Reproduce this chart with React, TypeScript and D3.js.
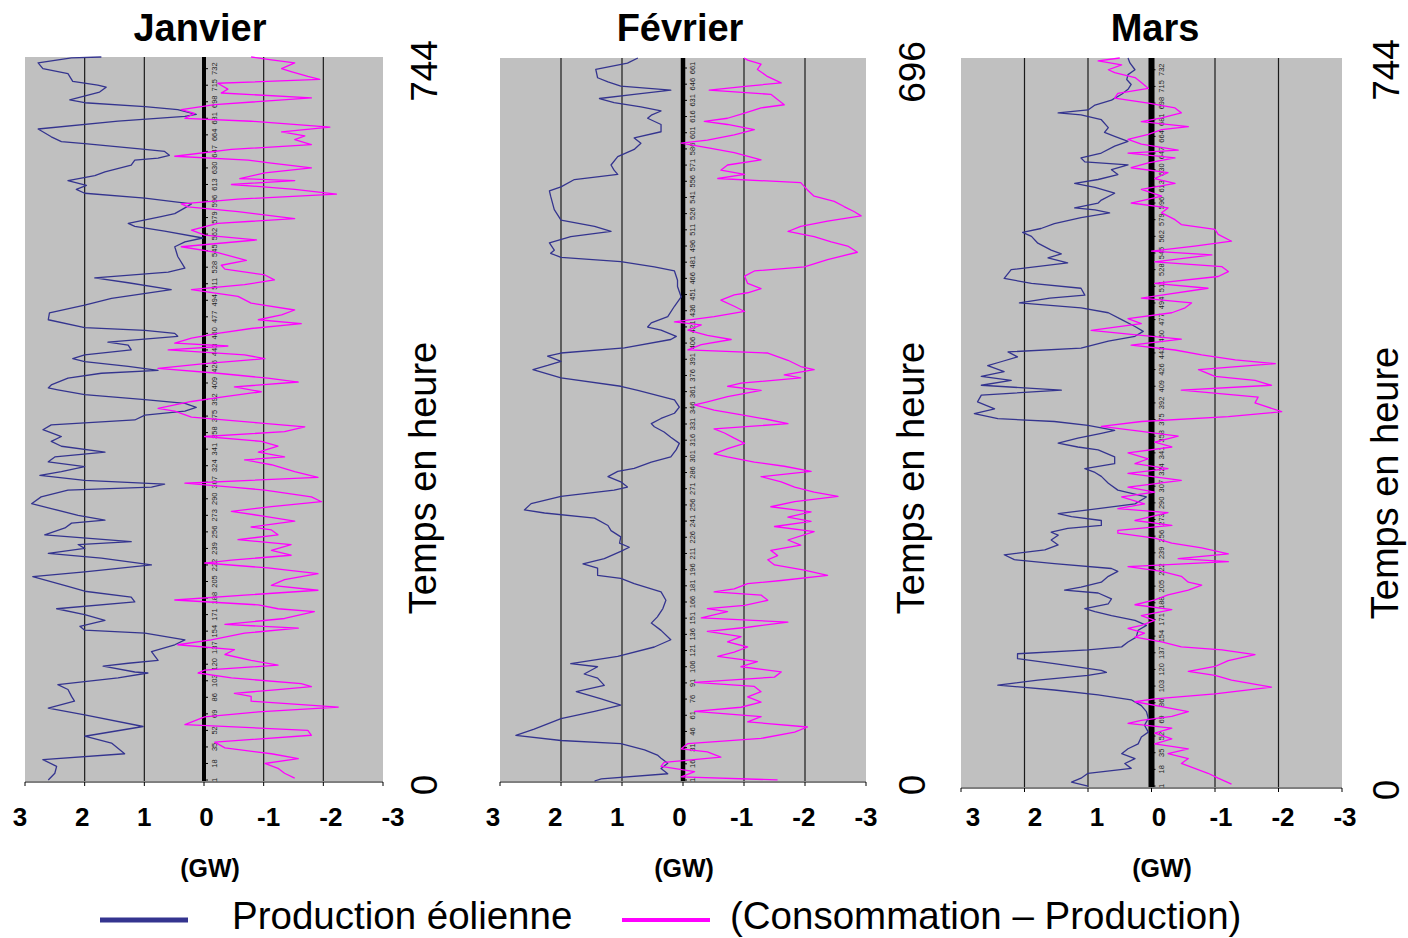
import React from 'react';
import * as d3 from 'd3';

type Pt = [number, number]; // [hour, GW]

// ---------------- DATA ----------------
const janvierProduction: Pt[] = [
  [744,1.72],[743,2.22],[738,2.78],[732,2.70],[727,2.28],[719,2.20],[715,1.78],[713,1.64],[708,1.75],[700,2.25],[697,2.00],[693,0.99],[690,0.44],[685,0.13],[683,0.32],[678,1.44],[670,2.78],[662,2.56],[657,2.39],[655,2.00],[649,0.99],[647,0.66],[643,0.58],[640,0.77],[638,1.16],[633,1.22],[626,1.66],[622,1.83],[617,2.28],[612,1.97],[608,2.14],[604,2.00],[599,0.99],[593,0.21],[589,0.32],[583,0.49],[580,0.72],[573,1.27],[570,1.16],[565,0.66],[558,0.02],[554,0.32],[549,0.49],[539,0.44],[527,0.32],[523,0.60],[517,1.83],[512,1.27],[505,0.55],[496,1.55],
  [489,2.00],[481,2.59],[474,2.61],[466,2.00],[463,0.99],[460,0.49],[457,0.44],[451,1.61],[448,1.27],[443,1.22],[438,2.00],[434,2.20],[431,2.00],[426,1.27],[422,0.77],[419,1.72],[414,2.28],[407,2.56],[404,2.61],[402,2.45],[397,2.00],[392,0.99],[388,0.32],[384,0.13],[380,0.32],[376,0.99],[371,1.16],[366,2.56],[361,2.70],[354,2.39],[349,2.56],[344,2.39],[338,1.66],[333,2.50],[328,2.61],[323,2.00],[318,2.39],[314,2.75],[309,2.00],[305,0.66],[302,0.88],[299,2.28],[292,2.73],[285,2.89],[280,2.56],[273,2.11],[268,1.66],[265,2.22],[260,2.33],[253,2.67],
  [246,1.22],[243,2.11],[239,2.00],[234,2.61],[229,1.72],[222,0.88],[215,2.00],[210,2.87],[200,2.28],[195,2.00],[189,1.22],[184,1.16],[177,2.47],[171,2.00],[165,1.66],[159,2.08],[155,2.00],[152,0.99],[145,0.32],[140,0.49],[133,0.88],[124,0.77],[121,1.27],[118,1.69],[112,1.16],[111,0.94],[106,1.44],[99,2.45],[94,2.28],[87,2.22],[82,2.17],[75,2.61],[68,2.00],[56,1.02],[46,2.00],[39,1.55],[28,1.33],[22,2.70],[15,2.47],[8,2.50],[1,2.61]
];
const janvierEcart: Pt[] = [
  [744,-0.79],[741,-1.13],[738,-1.52],[732,-1.30],[729,-1.46],[724,-1.74],[721,-1.94],[717,-0.23],[711,-0.40],[707,-0.29],[702,-1.80],[695,-0.18],[690,0.38],[686,0.16],[681,0.32],[678,-0.79],[672,-2.11],[667,-1.30],[663,-1.69],[659,-1.52],[654,-1.80],[649,-0.46],[642,0.49],[638,-0.74],[635,-1.13],[630,-1.80],[625,-1.02],[619,-0.60],[617,-1.52],[613,-0.46],[608,-1.52],[603,-2.22],[598,-0.57],[593,0.38],[590,0.27],[585,-0.57],[578,-1.52],[573,-0.23],[566,0.21],[561,-0.01],[556,-0.88],[549,0.38],[543,-0.23],[535,-0.71],[530,-0.29],[526,-0.35],[520,-1.02],[515,-1.18],[510,-0.68],[505,0.21],[498,-0.57],
  [491,-0.79],[484,-1.52],[479,-1.30],[474,-0.91],[470,-1.63],[465,-0.79],[460,-0.23],[455,0.21],[450,0.49],[447,-0.40],[443,0.60],[438,-0.68],[434,-1.02],[429,-0.01],[424,0.77],[419,-0.23],[414,-1.07],[410,-1.58],[405,-0.51],[400,-0.96],[395,-0.35],[390,0.21],[383,0.77],[380,0.49],[374,0.21],[368,-0.91],[364,-1.69],[359,-1.35],[354,-0.01],[349,-0.96],[344,-1.24],[338,-0.91],[333,-1.35],[330,-0.68],[325,-1.13],[318,-1.52],[312,-1.91],[306,0.32],[302,-0.46],[299,-1.02],[292,-1.80],[287,-1.97],[282,-1.13],[277,-0.46],[272,-1.02],[267,-1.52],[261,-0.79],[258,-1.13],
  [253,-1.24],[248,-0.57],[243,-1.46],[237,-1.13],[232,-1.46],[227,-0.46],[224,-0.01],[219,-1.07],[213,-1.91],[207,-1.35],[201,-1.13],[196,-1.91],[191,-0.68],[186,0.49],[181,-0.91],[177,-1.24],[174,-1.85],[167,-1.35],[161,-0.35],[157,-1.58],[152,-0.68],[145,-0.12],[140,0.44],[135,-0.51],[130,-0.35],[124,-0.79],[119,-1.24],[114,-0.01],[111,0.10],[106,-0.46],[100,-1.63],[97,-1.80],[94,-1.24],[90,-0.51],[87,-0.79],[82,-0.79],[76,-2.25],[71,-0.91],[66,-0.01],[58,0.32],[52,-1.74],[47,-1.80],[40,-0.18],[34,-0.35],[28,-1.13],[23,-1.58],[18,-1.02],[13,-1.24],[8,-1.35],[3,-1.52]
];

const fevrierProduction: Pt[] = [
  [696,0.74],[691,0.91],[685,1.43],[677,1.40],[673,1.23],[669,1.02],[665,0.20],[661,0.80],[657,1.37],[653,1.13],[649,0.69],[645,0.36],[641,0.52],[638,0.58],[632,0.36],[625,0.36],[619,0.80],[614,0.69],[608,0.80],[601,1.07],[593,1.18],[588,1.13],[584,1.07],[579,1.78],[572,2.00],[568,2.19],[563,2.17],[550,2.11],[540,2.00],[534,1.45],[529,1.18],[524,1.84],[518,2.19],[511,2.11],[508,2.17],[504,2.00],[500,1.02],[495,0.47],[491,0.14],[482,0.09],[476,0.09],
  [466,0.03],[457,0.14],[447,0.25],[441,0.52],[437,0.58],[434,0.36],[428,0.11],[425,0.20],[417,0.96],[412,2.00],[409,2.22],[404,2.00],[400,2.22],[396,2.46],[388,2.00],[380,1.02],[376,0.74],[367,0.14],[360,0.06],[354,0.14],[349,0.36],[344,0.52],[341,0.47],[336,0.31],[331,0.20],[325,0.06],[319,0.11],[312,0.20],[307,0.52],[301,0.80],[298,1.07],[293,1.23],[288,1.02],[283,0.91],[280,1.13],[274,2.00],[267,2.49],[261,2.60],[258,2.27],[253,1.45],[246,1.23],[241,1.18],
  [235,1.02],[229,1.04],[225,0.88],[221,1.02],[214,1.29],[209,1.64],[205,1.40],[198,1.40],[195,1.02],[190,0.80],[182,0.36],[174,0.28],[166,0.33],[158,0.42],[152,0.52],[145,0.36],[136,0.20],[129,0.47],[120,1.07],[113,1.84],[110,1.40],[103,1.62],[99,1.40],[92,1.29],[86,1.75],[79,1.34],[73,1.02],[67,1.45],[60,2.00],[50,2.44],[44,2.74],[39,2.00],[36,1.02],[30,0.63],[25,0.42],[22,0.36],[17,0.25],[12,0.36],[7,0.25],[2,1.34],[0,1.45]
];
const fevrierEcart: Pt[] = [
  [696,-1.00],[694,-1.06],[690,-1.28],[685,-1.22],[678,-1.39],[672,-1.61],[669,-1.06],[665,-0.43],[661,-1.44],[656,-1.55],[651,-1.66],[648,-1.28],[643,-1.01],[638,-0.73],[635,-0.35],[632,-0.73],[627,-1.17],[622,-0.84],[617,-0.40],[614,0.03],[609,-0.46],[605,-0.84],[598,-1.28],[593,-0.73],[588,-0.62],[584,-1.01],[580,-0.57],[576,-1.93],[569,-2.04],[563,-2.15],[558,-2.48],[553,-2.64],[548,-2.81],[544,-2.92],[539,-2.37],[534,-1.93],[529,-1.72],[524,-2.15],[519,-2.43],[515,-2.70],[509,-2.86],[502,-2.37],[495,-1.99],[491,-1.17],[486,-1.01],[479,-1.06],[474,-1.28],[470,-1.06],
  [468,-0.84],[463,-0.62],[457,-0.84],[452,-1.01],[447,-0.51],[442,0.14],[439,-0.30],[434,-0.08],[429,-0.40],[425,-0.79],[420,-0.30],[415,-0.08],[412,-1.39],[405,-1.72],[399,-1.93],[396,-2.15],[391,-1.66],[388,-1.93],[383,-0.95],[380,-0.73],[376,-1.28],[370,-0.73],[365,-0.40],[362,-0.19],[357,-0.51],[352,-1.01],[348,-1.39],[344,-1.72],[339,-0.51],[335,-0.68],[330,-0.84],[325,-1.01],[320,-0.73],[315,-0.51],[312,-0.73],[307,-1.17],[303,-1.66],[298,-2.10],[293,-1.28],[288,-1.61],[283,-1.83],[278,-2.15],[274,-2.54],[269,-1.83],[264,-1.44],[259,-2.10],[254,-1.72],[250,-2.10],[245,-1.50],[240,-2.15],
  [232,-1.72],[227,-1.93],[222,-1.44],[217,-1.55],[213,-1.39],[208,-1.50],[203,-1.99],[198,-2.37],[193,-1.61],[190,-1.06],[185,-0.84],[182,-0.51],[179,-1.28],[174,-1.39],[169,-1.01],[166,-0.40],[163,-0.73],[157,-0.30],[153,-1.72],[148,-1.06],[144,-0.40],[139,-0.95],[134,-0.73],[129,-1.06],[124,-0.84],[120,-0.57],[115,-1.22],[110,-0.95],[105,-1.61],[100,-1.50],[95,-0.19],[91,-1.17],[86,-1.28],[81,-1.06],[76,-1.28],[71,-0.95],[67,-0.19],[62,-1.28],[57,-1.06],[52,-2.04],[47,-1.83],[41,-1.28],[36,-0.08],[31,0.03],[28,-0.40],[23,-0.62],[18,0.31],[14,0.36],[9,-0.19],[4,0.03],[1,-1.55]
];

const marsProduction: Pt[] = [
  [744,0.37],[739,0.34],[732,0.26],[727,0.37],[722,0.39],[717,0.32],[712,0.37],[707,0.47],[701,0.63],[696,0.89],[691,1.00],[688,1.47],[686,1.11],[681,0.79],[673,0.68],[668,0.74],[664,0.58],[659,0.37],[654,0.58],[647,0.79],[642,1.11],[638,1.05],[635,0.37],[630,0.63],[625,0.53],[620,0.84],[616,1.21],[612,0.89],[606,0.58],[599,0.79],[596,0.84],[591,1.21],[589,0.89],[586,0.66],[581,1.11],[575,1.53],[570,1.74],[566,2.03],[562,1.89],[555,1.79],[548,1.58],[544,1.42],[540,1.63],[535,1.32],[528,2.21],[519,2.32],[514,1.89],[509,1.11],[502,1.05],[499,1.60],[494,2.08],
  [489,1.11],[484,0.68],[477,0.47],[470,0.26],[465,0.13],[460,0.26],[455,0.68],[448,1.11],[444,2.26],[439,2.11],[434,2.37],[430,2.58],[424,2.32],[419,2.68],[415,2.21],[410,2.68],[405,1.42],[400,2.68],[393,2.74],[386,2.47],[381,2.79],[376,2.42],[373,1.53],[369,1.00],[364,0.58],[361,0.79],[356,1.16],[351,1.47],[347,1.16],[344,0.84],[337,0.58],[330,0.58],[325,1.05],[321,0.89],[317,0.79],[310,0.68],[303,0.53],[296,0.08],[289,0.26],[284,0.84],[279,1.47],[276,1.26],[272,0.79],[267,0.79],[264,1.32],[260,1.58],
  [257,1.47],[252,1.58],[247,1.47],[242,1.68],[237,2.32],[232,2.16],[228,1.53],[223,0.63],[220,0.53],[215,0.68],[209,0.79],[204,1.11],[201,1.37],[198,0.84],[192,0.63],[187,0.68],[182,1.05],[179,0.89],[175,0.63],[170,0.26],[165,0.08],[160,0.21],[153,0.24],[148,0.37],[143,0.47],[140,1.00],[136,2.11],[131,2.11],[126,1.53],[119,0.79],[117,0.71],[114,1.00],[109,1.79],[104,2.42],[99,1.53],[94,0.84],[89,0.32],[83,0.16],[77,0.08],[70,0.05],[63,0.11],[56,0.05],[51,0.16],[44,0.21],[39,0.37],[34,0.47],[29,0.26],[24,0.42],[19,0.32],[14,1.00],[9,1.11],[5,1.26],[1,1.00]
];
const marsEcart: Pt[] = [
  [744,0.50],[741,0.84],[737,0.47],[732,0.68],[729,0.58],[724,0.26],[719,0.16],[713,0.05],[708,0.53],[703,0.58],[698,0.05],[693,-0.37],[688,-0.47],[683,-0.16],[679,0.16],[674,-0.58],[671,-0.16],[666,0.05],[661,0.37],[656,0.16],[650,-0.42],[647,0.37],[642,-0.37],[637,0.05],[632,0.32],[627,-0.26],[621,-0.05],[616,-0.37],[610,0.16],[603,-0.16],[596,0.32],[591,-0.26],[586,-0.16],[579,-0.37],[574,-0.47],[569,-1.00],[564,-1.05],[557,-1.26],[552,-0.68],[547,0.00],[543,-0.95],[536,-0.05],[531,-1.11],[526,-1.21],[521,-1.05],[514,-0.05],[509,-0.89],[502,-0.16],
  [499,0.16],[494,-0.63],[489,-0.53],[484,-0.32],[478,0.37],[473,0.16],[466,0.95],[461,0.16],[457,-0.47],[451,0.32],[446,-0.37],[441,-0.79],[436,-1.32],[432,-1.95],[426,-0.74],[419,-1.00],[415,-1.63],[410,-1.89],[405,-0.47],[398,-1.68],[392,-1.63],[383,-2.05],[378,-1.21],[373,0.16],[368,0.79],[363,0.16],[358,-0.42],[352,-0.05],[347,-0.32],[341,0.37],[335,0.05],[330,0.26],[325,-0.26],[320,0.37],[313,-0.47],[306,0.37],[301,-0.05],[296,0.47],[289,0.11],[284,0.53],[280,-0.26],[272,0.26],[267,-0.32],[262,0.53],
  [259,0.53],[254,-0.05],[249,-0.32],[244,-0.79],[238,-1.21],[233,-0.42],[230,-1.21],[225,0.37],[220,-0.16],[215,-0.47],[209,-0.58],[206,-0.79],[201,-0.58],[196,-0.26],[191,-0.05],[186,0.26],[181,-0.32],[175,0.16],[170,-0.05],[165,0.16],[162,0.37],[157,0.11],[153,0.26],[148,-0.16],[143,-0.47],[140,-1.11],[135,-1.63],[129,-1.21],[123,-1.00],[118,-0.58],[114,-1.00],[109,-1.26],[102,-1.89],[95,-1.00],[90,-0.05],[87,0.26],[82,-0.16],[77,-0.58],[72,-0.32],[68,0.16],[65,0.37],[60,-0.32],[55,-0.05],[49,-0.32],[44,-0.05],[39,-0.58],[34,-0.26],[29,-0.58],[24,-0.47],[19,-0.68],[14,-0.89],[9,-1.05],[3,-1.26]
];

const janvierHeures = [1,18,35,52,69,86,103,120,137,154,171,188,205,222,239,256,273,290,307,324,341,358,375,392,409,426,443,460,477,494,511,528,545,562,579,596,613,630,647,664,681,698,715,732];
const fevrierHeures = [1,16,31,46,61,76,91,106,121,136,151,166,181,196,211,226,241,256,271,286,301,316,331,346,361,376,391,406,421,436,451,466,481,496,511,526,541,556,571,586,601,616,631,646,661];
const marsHeures = [1,18,35,52,69,86,103,120,137,154,171,188,205,222,239,256,273,290,307,324,341,358,375,392,409,426,443,460,477,494,511,528,545,562,579,596,613,630,647,664,681,698,715,732];

const gwTicks = [3, 2, 1, 0, -1, -2, -3];
const gwGrid = [2, 1, -1, -2];
const titles = ['Janvier', 'Février', 'Mars'];
const maxHours = [744, 696, 744];
const axisUnit = '(GW)';
const axisTitle = 'Temps en heure';
const legendLabels = ['Production éolienne', '(Consommation – Production)'];

// ---------------- STYLE / LAYOUT ----------------
const BLUE = '#34348f';
const MAGENTA = '#ff00ff';
const BG = '#c0c0c0';
const FONT = 'Arial, "Liberation Sans", Helvetica, sans-serif';

const layouts = [
  { left: 25, right: 383, top: 57, bottom: 781, labL: 20, labR: 393, titleX: 200, gwX: 210, sideX: 424, topNumY: 71, zeroY: 785, sideTitleY: 478, zeroW: 4, hourDx: 10, hourLabelRange: null as null | [number, number, number, number] },
  { left: 500, right: 866, top: 58, bottom: 781, labL: 493, labR: 866, titleX: 680, gwX: 684, sideX: 912, topNumY: 72, zeroY: 785, sideTitleY: 478, zeroW: 4.5, hourDx: 9, hourLabelRange: [1, 661, 780, 68] as [number, number, number, number] },
  { left: 961, right: 1342, top: 58, bottom: 787, labL: 973, labR: 1345, titleX: 1155, gwX: 1162, sideX: 1386, topNumY: 70, zeroY: 790, sideTitleY: 483, zeroW: 6, hourDx: 10, hourLabelRange: null as null | [number, number, number, number] },
];

const series = [
  { prod: janvierProduction, diff: janvierEcart, hours: janvierHeures },
  { prod: fevrierProduction, diff: fevrierEcart, hours: fevrierHeures },
  { prod: marsProduction, diff: marsEcart, hours: marsHeures },
];

function Panel({ i }: { i: number }) {
  const L = layouts[i];
  const S = series[i];
  const maxH = maxHours[i];
  const x = d3.scaleLinear().domain([3, -3]).range([L.left, L.right]);
  const y = d3.scaleLinear().domain([0, maxH]).range([L.bottom, L.top]);
  const xLab = d3.scaleLinear().domain([3, -3]).range([L.labL, L.labR]);
  const yLab = L.hourLabelRange
    ? d3.scaleLinear().domain([L.hourLabelRange[0], L.hourLabelRange[1]]).range([L.hourLabelRange[2], L.hourLabelRange[3]])
    : y;
  const line = d3.line<Pt>().x((d) => x(d[1])).y((d) => y(d[0]));
  const sortAsc = (a: Pt[]) => a.slice().sort((p, q) => p[0] - q[0]);
  const x0 = x(0);
  return (
    <g>
      <rect x={L.left} y={L.top} width={L.right - L.left} height={L.bottom - L.top} fill={BG} />
      {gwGrid.map((g) => (
        <line key={g} x1={x(g)} x2={x(g)} y1={L.top} y2={L.bottom} stroke="#1a1a1a" strokeWidth={1.2} />
      ))}
      {/* zero axis with hour labels */}
      <line x1={x0} x2={x0} y1={L.top} y2={L.bottom} stroke="#000" strokeWidth={L.zeroW} />
      {S.hours.map((h) => (
        <g key={h}>
          <line x1={x0} x2={x0 + 4} y1={yLab(h)} y2={yLab(h)} stroke="#000" strokeWidth={1} />
          <text
            transform={`translate(${x0 + L.hourDx},${yLab(h)}) rotate(-90)`}
            textAnchor="middle"
            dy="0.35em"
            fontSize={7.5}
            fontFamily={FONT}
            fill="#222"
          >
            {h}
          </text>
        </g>
      ))}
      {/* series */}
      <path d={line(sortAsc(S.prod)) || ''} fill="none" stroke={BLUE} strokeWidth={1.3} strokeLinejoin="round" />
      <path d={line(sortAsc(S.diff)) || ''} fill="none" stroke={MAGENTA} strokeWidth={1.3} strokeLinejoin="round" />
      {/* bottom axis */}
      <line x1={L.left} x2={L.right} y1={L.bottom + 1} y2={L.bottom + 1} stroke="#000" strokeWidth={1} />
      {gwTicks.map((t) => (
        <line key={'tk' + t} x1={x(t)} x2={x(t)} y1={L.bottom + 1} y2={L.bottom + 5} stroke="#000" strokeWidth={1} />
      ))}
      {gwTicks.map((t) => (
        <text key={'tl' + t} x={xLab(t)} y={826} textAnchor="middle" fontSize={26} fontWeight="bold" fontFamily={FONT} fill="#000">
          {String(t)}
        </text>
      ))}
      <text x={L.gwX} y={877} textAnchor="middle" fontSize={25} fontWeight="bold" fontFamily={FONT}>{axisUnit}</text>
      {/* title */}
      <text x={L.titleX} y={41} textAnchor="middle" fontSize={38} fontWeight="bold" fontFamily={FONT}>{titles[i]}</text>
      {/* right side rotated texts */}
      <text transform={`translate(${L.sideX},${L.topNumY}) rotate(-90)`} textAnchor="middle" dy="0.36em" fontSize={37} fontFamily={FONT}>{String(maxH)}</text>
      <text transform={`translate(${L.sideX},${L.zeroY}) rotate(-90)`} textAnchor="middle" dy="0.36em" fontSize={37} fontFamily={FONT}>0</text>
      <text transform={`translate(${L.sideX - 2},${L.sideTitleY}) rotate(-90)`} textAnchor="middle" dy="0.36em" fontSize={38} fontFamily={FONT}>{axisTitle}</text>
    </g>
  );
}

export default function App() {
  return (
    <svg
      width={1408}
      height={938}
      style={{ position: 'absolute', left: 0, top: 0, background: '#fff' }}
      xmlns="http://www.w3.org/2000/svg"
    >
      <rect x={0} y={0} width={1408} height={938} fill="#fff" />
      {[0, 1, 2].map((i) => (
        <Panel key={i} i={i} />
      ))}
      {/* legend */}
      <line x1={100} x2={188} y1={920} y2={920} stroke={BLUE} strokeWidth={5} />
      <text x={232} y={929} fontSize={38.5} fontFamily={FONT}>{legendLabels[0]}</text>
      <line x1={622} x2={710} y1={920} y2={920} stroke={MAGENTA} strokeWidth={4} />
      <text x={730} y={929} fontSize={38.5} fontFamily={FONT}>{legendLabels[1]}</text>
    </svg>
  );
}
